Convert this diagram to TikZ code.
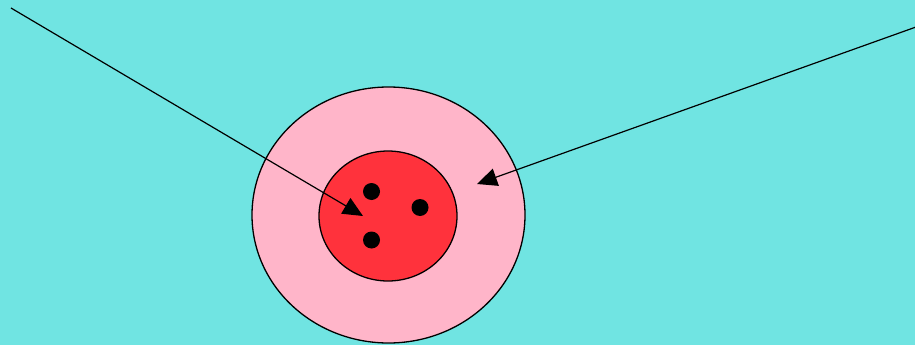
\documentclass[tikz,border=0pt]{standalone}
\usetikzlibrary{arrows.meta,shapes.geometric}
\definecolor{bgcyan}{HTML}{70E4E2}
\definecolor{cellpink}{HTML}{FFB5C9}
\definecolor{nucred}{HTML}{FF323C}
\begin{document}
\begin{tikzpicture}[x=1pt,y=-1pt,
  outline/.style={draw=black,line width=1.3pt},
  dotmark/.style={circle,fill=black,inner sep=0pt,minimum size=17pt},
  pointer/.style={draw=black,line width=1.2pt,-{Triangle[length=20pt,width=18pt]}}]
\fill[bgcyan] (0,0) rectangle (915,345);
\useasboundingbox (0,0) rectangle (915,345);
\node[ellipse,outline,fill=cellpink,minimum width=273pt,minimum height=256pt,inner sep=0pt] (cell) at (388.5,215) {};
\node[ellipse,outline,fill=nucred,minimum width=138pt,minimum height=130pt,inner sep=0pt] (nucleus) at (388,216) {};
\node[dotmark] (d1) at (371.5,191.5) {};
\node[dotmark] (d2) at (420,207.5) {};
\node[dotmark] (d3) at (371.5,240) {};
\coordinate (s1) at (11,8);
\coordinate (t1) at (363,216);
\coordinate (s2) at (916,27);
\coordinate (t2) at (477,184);
\draw[pointer] (s1) -- (t1);
\draw[pointer] (s2) -- (t2);
\end{tikzpicture}
\end{document}
